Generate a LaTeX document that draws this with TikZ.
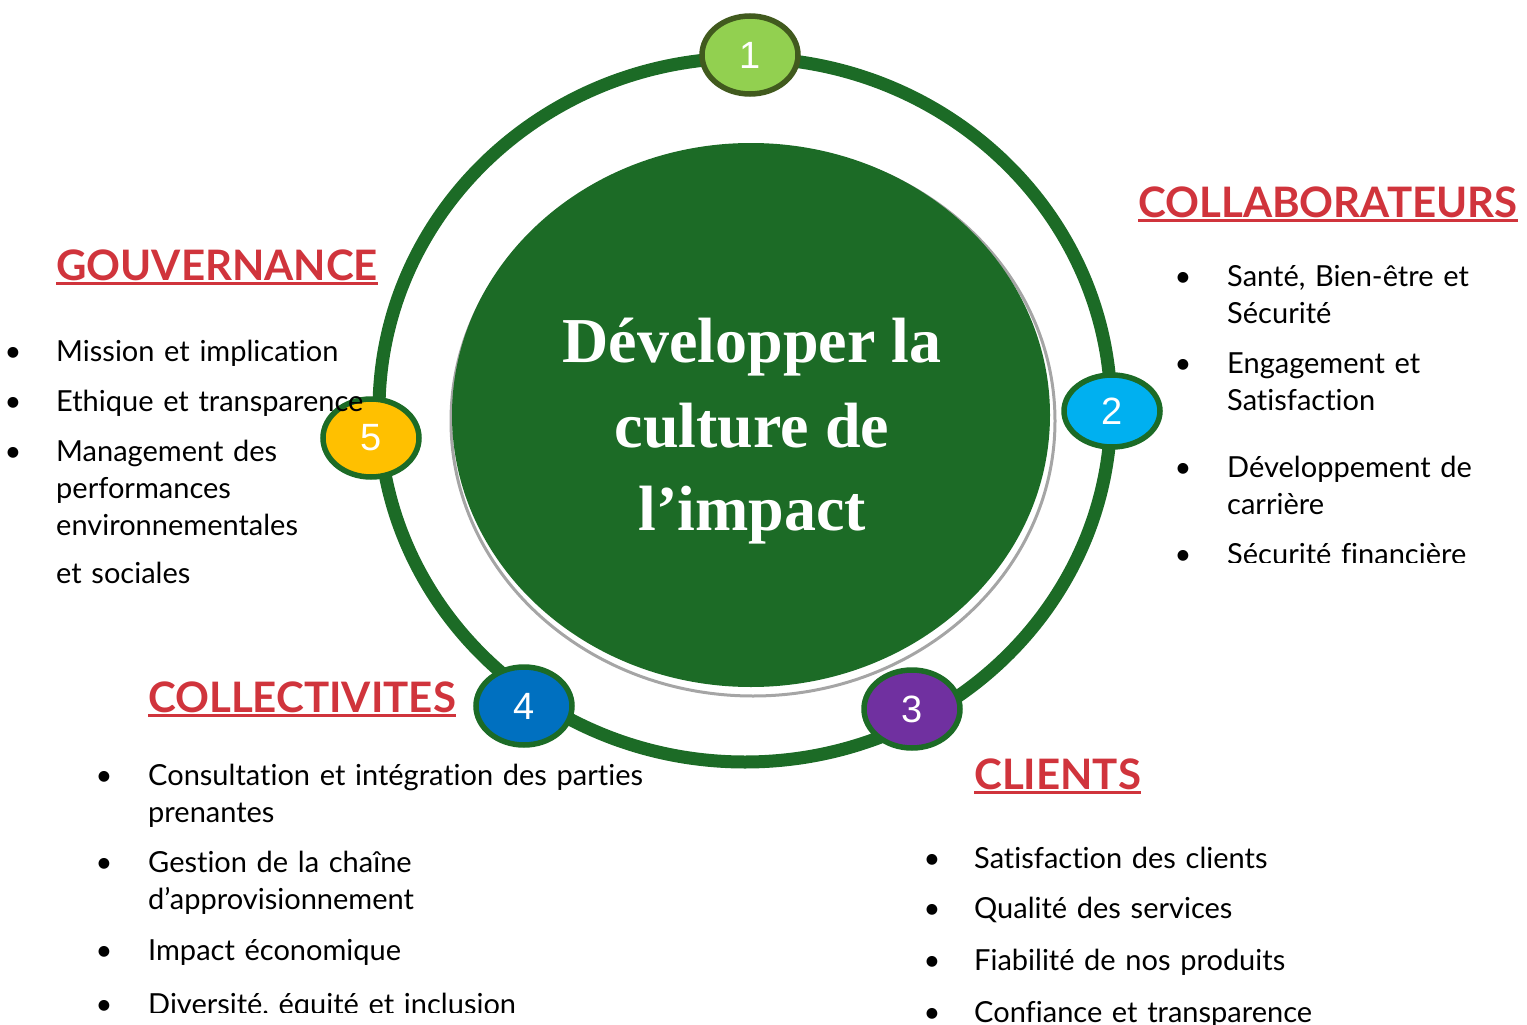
\documentclass[tikz,border=0pt]{standalone}
\usepackage{fontspec}
\setmainfont{Lato}[Ligatures=NoCommon]
\newfontfamily\titlefont{Liberation Serif}
\newfontfamily\digitfont{Liberation Sans}
\usetikzlibrary{positioning,shapes.geometric}

\definecolor{ringgreen}{RGB}{28,107,38}
\definecolor{titlered}{RGB}{208,52,60}
\definecolor{shadowgrey}{RGB}{165,165,165}
\definecolor{onefill}{RGB}{146,208,80}
\definecolor{oneline}{RGB}{65,90,30}
\definecolor{twofill}{RGB}{0,176,240}
\definecolor{threefill}{RGB}{112,48,160}
\definecolor{fourfill}{RGB}{0,112,192}
\definecolor{fivefill}{RGB}{255,192,0}

\tikzset{
  numdisc/.style={ellipse, draw=ringgreen, line width=5.5pt, minimum width=96pt, minimum height=78pt, inner sep=0pt, text=white, font=\digitfont\fontsize{38}{40}\selectfont},
  heading/.style={anchor=base west, inner sep=0pt, text=titlered, font=\bfseries\fontsize{42}{44}\selectfont},
  underl/.style={titlered, line width=3pt},
  item/.style={anchor=base west, inner sep=0pt, text width=600pt, align=left, font=\fontsize{29}{37}\selectfont},
  puce/.style={anchor=base, inner sep=0pt, font=\fontsize{29}{37}\selectfont},
  bigtitle/.style={anchor=base, inner sep=0pt, text=white, font=\titlefont\bfseries\fontsize{64}{84}\selectfont}
}

\begin{document}
\begin{tikzpicture}[x=1pt, y=-1pt]
    \useasboundingbox (0,0) rectangle (1527,1025);

    % Ring and centre
    \draw[ringgreen, line width=13pt] (745,410) ellipse [x radius=366pt, y radius=352pt];
    \draw[shadowgrey, line width=3pt] (753,421) ellipse [x radius=302pt, y radius=275pt];
    \fill[ringgreen] (751,415) ellipse [x radius=299pt, y radius=272pt];
    \node[bigtitle] (t1) at (752,362) {Développer la};
    \node[bigtitle] (t2) at (752,447) {culture de};
    \node[bigtitle] (t3) at (752,530) {l’impact};

    % Numbered steps
    \node[numdisc, fill=onefill, draw=oneline] (n1) at (750,55) {1};
    \node[numdisc, fill=twofill, minimum height=72pt] (n2) at (1112,411) {2};
    \node[numdisc, fill=threefill] (n3) at (912,709) {3};
    \node[numdisc, fill=fourfill] (n4) at (524,706) {4};
    \node[numdisc, fill=fivefill] (n5) at (371,438) {5};

    % Gouvernance
    \node[heading] (gouv) at (56,280) {GOUVERNANCE};
    \draw[underl] ([yshift=-3pt]gouv.base west) -- ([yshift=-3pt]gouv.base east);
    \node[puce] (g1b) at (13,361) {•};
    \node[item] (g1) at (56,361) {Mission et implication};
    \node[puce] (g2b) at (13,411) {•};
    \node[item] (g2) at (56,411) {Ethique et transparence};
    \node[puce] (g3b) at (13,461) {•};
    \node[item] (g3) at (56,461) {Management des\\performances\\environnementales};
    \node[item] (g4) at (56,583) {et sociales};

    % Collaborateurs
    \node[heading] (collab) at (1138,217) {COLLABORATEURS};
    \draw[underl] ([yshift=-3pt]collab.base west) -- ([yshift=-3pt]collab.base east);
    \node[puce] (c1b) at (1183,286) {•};
    \node[item] (c1) at (1227,286) {Santé, Bien-être et\\Sécurité};
    \node[puce] (c2b) at (1183,373) {•};
    \node[item] (c2) at (1227,373) {Engagement et\\Satisfaction};
    \node[puce] (c3b) at (1183,477) {•};
    \node[item] (c3) at (1227,477) {Développement de\\carrière};
    \begin{scope}
      \clip (1100,500) rectangle (1527,562);
      \node[puce] (c4b) at (1183,564) {•};
      \node[item] (c4) at (1227,564) {Sécurité financière};
    \end{scope}

    % Collectivites
    \node[heading] (collec) at (148,712) {COLLECTIVITES};
    \draw[underl] ([yshift=-3pt]collec.base west) -- ([yshift=-3pt]collec.base east);
    \node[puce] (k1b) at (104,785) {•};
    \node[item] (k1) at (148,785) {Consultation et intégration des parties\\prenantes};
    \node[puce] (k2b) at (104,872) {•};
    \node[item] (k2) at (148,872) {Gestion de la chaîne\\d’approvisionnement};
    \node[puce] (k3b) at (104,960) {•};
    \node[item] (k3) at (148,960) {Impact économique};
    \begin{scope}
      \clip (60,980) rectangle (700,1012);
      \node[puce] (k4b) at (104,1014) {•};
      \node[item] (k4) at (148,1014) {Diversité, équité et inclusion};
    \end{scope}

    % Clients
    \node[heading] (clients) at (974,789) {CLIENTS};
    \draw[underl] ([yshift=-3pt]clients.base west) -- ([yshift=-3pt]clients.base east);
    \node[puce] (l1b) at (932,868) {•};
    \node[item] (l1) at (974,868) {Satisfaction des clients};
    \node[puce] (l2b) at (932,918) {•};
    \node[item] (l2) at (974,918) {Qualité des services};
    \node[puce] (l3b) at (932,970) {•};
    \node[item] (l3) at (974,970) {Fiabilité de nos produits};
    \node[puce] (l4b) at (932,1022) {•};
    \node[item] (l4) at (974,1022) {Confiance et transparence};
\end{tikzpicture}
\end{document}
